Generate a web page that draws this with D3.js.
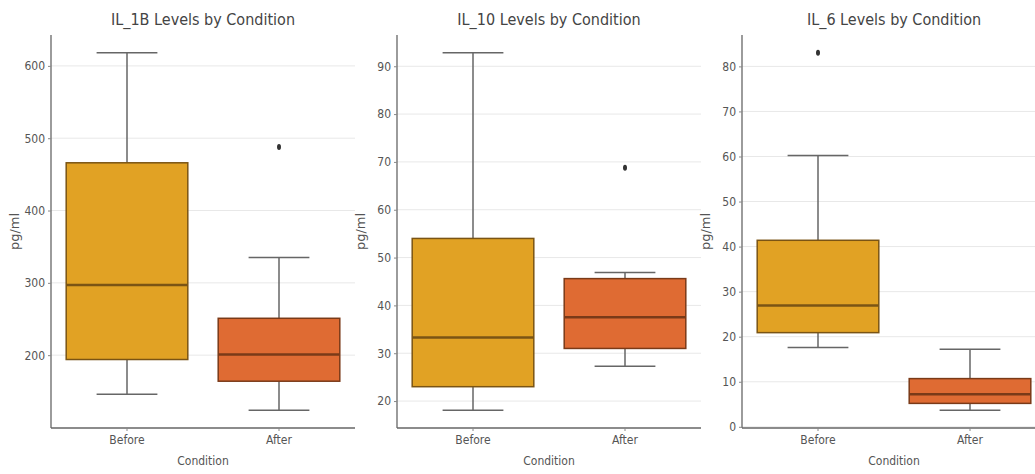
<!DOCTYPE html>
<html>
<head>
<meta charset="utf-8">
<script src="https://cdn.jsdelivr.net/npm/d3@7"></script>
<style>
  body { margin: 0; background: #fff; }
  text { font-family: "DejaVu Sans Condensed", "DejaVu Sans", sans-serif; fill: #555; }
</style>
</head>
<body>
<div id="chart"></div>
<script>
var width = 1035, height = 474;

// categories and colours
var conditions = ["Before", "After"];
var fills = ["#E1A224", "#DF6B33"];
var edges = ["#7a5414", "#7a3a18"];

// box stats: [whiskerLow, q1, median, q3, whiskerHigh]
var il1bBox = [[146, 194, 297, 466, 618], [124, 164, 201, 251, 335]];
var il1bOut = [[], [488]];
var il1bTicks = [200, 300, 400, 500, 600];

var il10Box = [[18.1, 23.0, 33.3, 54.0, 92.8], [27.3, 31.0, 37.5, 45.6, 46.9]];
var il10Out = [[], [68.8]];
var il10Ticks = [20, 30, 40, 50, 60, 70, 80, 90];

var il6Box = [[17.6, 20.9, 26.9, 41.4, 60.2], [3.7, 5.2, 7.2, 10.7, 17.2]];
var il6Out = [[83], []];
var il6Ticks = [0, 10, 20, 30, 40, 50, 60, 70, 80];

var panels = [
  { title: "IL_1B Levels by Condition", box: il1bBox, out: il1bOut, ticks: il1bTicks, left: 51 },
  { title: "IL_10 Levels by Condition", box: il10Box, out: il10Out, ticks: il10Ticks, left: 397 },
  { title: "IL_6 Levels by Condition", box: il6Box, out: il6Out, ticks: il6Ticks, left: 742 }
];

var plotTop = 35, plotBottom = 428, plotW = 304;

var svg = d3.select("#chart").append("svg")
  .attr("width", width)
  .attr("height", height);

panels.forEach(function (p) {
  // domain from the data extent plus 5% margin, like matplotlib
  var all = [];
  p.box.forEach(function (b) { all.push(b[0], b[4]); });
  p.out.forEach(function (o) { all = all.concat(o); });
  var lo = d3.min(all), hi = d3.max(all), m = (hi - lo) * 0.05;

  var y = d3.scaleLinear().domain([lo - m, hi + m]).range([plotBottom, plotTop]);
  var x = d3.scaleBand().domain(conditions).range([0, plotW]).padding(0);

  var g = svg.append("g").attr("transform", "translate(" + p.left + ",0)");

  // grid
  g.selectAll(".grid").data(p.ticks).enter().append("line")
    .attr("x1", 0).attr("x2", plotW)
    .attr("y1", function (d) { return y(d); })
    .attr("y2", function (d) { return y(d); })
    .attr("stroke", "#e8e8e8").attr("stroke-width", 1);

  // boxes
  var bw = x.bandwidth() * 0.8;
  conditions.forEach(function (c, i) {
    var b = p.box[i];
    var cx = x(c) + x.bandwidth() / 2;
    var capW = bw / 2;

    g.append("line").attr("x1", cx).attr("x2", cx)
      .attr("y1", y(b[4])).attr("y2", y(b[3]))
      .attr("stroke", "#666").attr("stroke-width", 1.5);
    g.append("line").attr("x1", cx).attr("x2", cx)
      .attr("y1", y(b[1])).attr("y2", y(b[0]))
      .attr("stroke", "#666").attr("stroke-width", 1.5);
    g.append("line").attr("x1", cx - capW / 2).attr("x2", cx + capW / 2)
      .attr("y1", y(b[4])).attr("y2", y(b[4]))
      .attr("stroke", "#666").attr("stroke-width", 1.5);
    g.append("line").attr("x1", cx - capW / 2).attr("x2", cx + capW / 2)
      .attr("y1", y(b[0])).attr("y2", y(b[0]))
      .attr("stroke", "#666").attr("stroke-width", 1.5);

    g.append("rect")
      .attr("x", cx - bw / 2).attr("width", bw)
      .attr("y", y(b[3])).attr("height", y(b[1]) - y(b[3]))
      .attr("fill", fills[i]).attr("stroke", edges[i]).attr("stroke-width", 1.5);

    g.append("line").attr("x1", cx - bw / 2).attr("x2", cx + bw / 2)
      .attr("y1", y(b[2])).attr("y2", y(b[2]))
      .attr("stroke", edges[i]).attr("stroke-width", 2.5);

    p.out[i].forEach(function (v) {
      g.append("ellipse").attr("cx", cx).attr("cy", y(v))
        .attr("rx", 2).attr("ry", 3).attr("fill", "#333");
    });
  });

  // axes
  var yAxis = g.append("g").call(d3.axisLeft(y).tickValues(p.ticks).tickSize(3).tickPadding(3));
  var xAxis = g.append("g").attr("transform", "translate(0," + plotBottom + ")")
    .call(d3.axisBottom(x).tickSize(3).tickPadding(4));
  [yAxis, xAxis].forEach(function (a) {
    a.select(".domain").attr("stroke", "#666").attr("stroke-width", 1.3);
    a.selectAll(".tick line").attr("stroke", "#888");
    a.selectAll(".tick text").attr("font-size", 12).style("fill", "#555")
      .attr("font-family", "DejaVu Sans Condensed, DejaVu Sans, sans-serif");
  });
  xAxis.select(".domain").attr("d", "M0,0H" + plotW);
  yAxis.select(".domain").attr("d", "M0," + (plotBottom) + "V" + plotTop);

  g.append("text").attr("x", plotW / 2).attr("y", 25)
    .attr("text-anchor", "middle").attr("font-size", 16).style("fill", "#444")
    .text(p.title);

  g.append("text").attr("x", plotW / 2).attr("y", 465)
    .attr("text-anchor", "middle").attr("font-size", 12)
    .text("Condition");

  g.append("text")
    .attr("transform", "translate(" + (-32) + "," + ((plotTop + plotBottom) / 2) + ") rotate(-90)")
    .attr("text-anchor", "middle").attr("font-size", 13)
    .style("font-family", "DejaVu Sans, sans-serif")
    .text("pg/ml");
});
</script>
</body>
</html>
